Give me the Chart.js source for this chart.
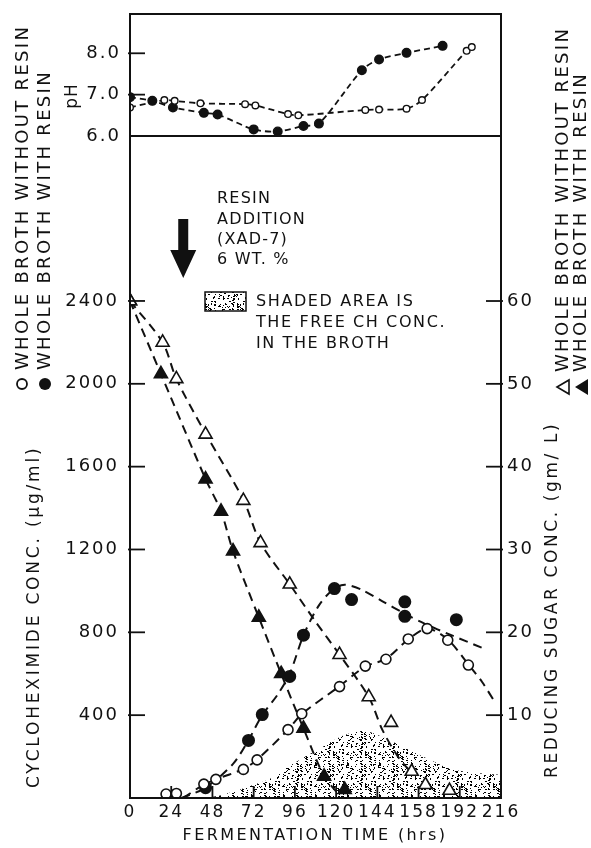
<!DOCTYPE html>
<html><head><meta charset="utf-8">
<script src="https://cdn.jsdelivr.net/npm/chart.js@4.4.1/dist/chart.umd.min.js"></script>
<style>html,body{margin:0;padding:0;background:#fff;}canvas{display:block}</style>
</head><body>
<canvas id="c" width="591" height="848"></canvas>
<script>
// ---------------- data ----------------
const xTickValues = [0, 24, 48, 72, 96, 120, 144, 168, 192, 216];
const xTickLabels = ['0', '24', '48', '72', '96', '120', '144', '158', '192', '216'];
const chTicks = [400, 800, 1200, 1600, 2000, 2400];
const sugarTicks = [10, 20, 30, 40, 50, 60];
const phTicks = [6, 7, 8];

// pH panel
const phResinT   = [0, 13, 25, 43, 51, 72, 86, 101, 110, 135, 145, 161, 182];
const phResin    = [6.94, 6.85, 6.69, 6.56, 6.52, 6.16, 6.11, 6.24, 6.30, 7.59, 7.85, 8.01, 8.18];
const phNoResinT = [0, 20, 26, 41, 67, 73, 92, 98, 137, 145, 161, 170, 196, 199];
const phNoResin  = [6.69, 6.87, 6.85, 6.79, 6.77, 6.74, 6.53, 6.50, 6.63, 6.64, 6.66, 6.87, 8.06, 8.15];

// cycloheximide (ug/ml)
const chResinT   = [44, 69, 77, 93, 101, 119, 129, 160, 160, 190];
const chResin    = [50, 278, 403, 587, 786, 1011, 958, 947, 877, 861];
const chNoResinT = [21, 27, 43, 50, 66, 74, 92, 100, 122, 137, 149, 162, 173, 185, 197];
const chNoResin  = [19, 22, 67, 90, 138, 184, 330, 407, 538, 637, 670, 768, 818, 762, 642];

// reducing sugar (g/L)
const sugarNoResinT = [0, 19, 27, 44, 66, 76, 93, 122, 139, 152, 164, 172, 186];
const sugarNoResin  = [60, 55, 50.6, 43.9, 35.9, 30.8, 25.8, 17.3, 12.2, 9.1, 3.2, 1.6, 0.9];
const sugarResinT   = [0, 18, 44, 53, 60, 75, 88, 101, 113, 125];
const sugarResin    = [60, 51.2, 38.5, 34.6, 29.8, 21.8, 15, 8.4, 2.6, 1.0];

// dashed fitted curves as drawn in the figure
const fitCHResinT   = [30, 44, 60, 69, 77, 86, 93, 101, 110, 118, 125, 135, 147, 160, 172, 186, 205];
const fitCHResin    = [0, 50, 165, 280, 400, 500, 600, 785, 930, 1005, 1030, 1005, 950, 890, 840, 790, 725];
const fitCHNoResinT = [31, 42, 50, 66, 74, 92, 100, 122, 137, 149, 162, 173, 185, 197, 205, 213];
const fitCHNoResin  = [0, 60, 90, 140, 185, 330, 405, 540, 635, 672, 765, 818, 765, 645, 560, 455];
const fitSugarNoResinT = [0, 19, 27, 44, 66, 76, 93, 108, 122, 139, 147, 156, 164];
const fitSugarNoResin  = [60, 55, 50.6, 44, 36, 30.8, 25.8, 21.3, 17.3, 12.2, 8.2, 5.0, 3.0];
const fitSugarResinT   = [0, 18, 44, 53, 60, 75, 88, 101, 113, 120];
const fitSugarResin    = [60, 51.2, 38.5, 34.6, 29.8, 21.8, 15, 8.4, 2.6, 0.8];

// free CH in the broth (shaded area, ug/ml)
const freeT  = [40, 50, 60, 70, 81, 90, 100, 110, 120, 128, 137, 147, 157, 167, 177, 186, 196, 205, 216];
const freeCH = [0, 8, 30, 58, 90, 140, 190, 236, 285, 313, 323, 294, 255, 214, 175, 142, 126, 118, 112];

const resinAdditionTime = 31;

// ---------------- drawing ----------------
const FONT = "'DejaVu Sans', 'Liberation Sans', sans-serif";
const INK = '#111';
const canvas = document.getElementById('c');
const ctx = canvas.getContext('2d');

// stipple texture: scattered dots placed with an integer hash (fixed layout)
function makeStipple() {
  const S = 32;
  const p = document.createElement('canvas');
  p.width = S; p.height = S;
  const g = p.getContext('2d');
  g.fillStyle = '#000';
  for (let i = 1; i <= 170; i++) {
    const h = Math.imul(i, 2654435761) >>> 0;
    const h2 = Math.imul(h ^ (h >>> 15), 2246822519) >>> 0;
    const x = h2 % S, y = (h2 >>> 11) % S;
    const w = (h2 >>> 20) % 3 === 0 ? 2 : 1;
    g.fillRect(x, y, w, 1);
  }
  return ctx.createPattern(p, 'repeat');
}
const stipple = makeStipple();

const pts = (t, v) => t.map((x, i) => ({ x: x, y: v[i] }));

function markers(t, v, axis, style, filled, r) {
  return {
    data: pts(t, v), yAxisID: axis, showLine: false, order: 0,
    pointStyle: style, pointRadius: r, pointHoverRadius: r,
    pointBackgroundColor: filled ? INK : '#fff', pointBorderColor: INK, pointBorderWidth: 1.6
  };
}
function curve(t, v, axis, dash, w) {
  return {
    data: pts(t, v), yAxisID: axis, showLine: true, order: 5,
    borderColor: INK, borderWidth: w, borderDash: dash, pointRadius: 0,
    tension: 0.3, fill: false
  };
}
function phSeries(t, v, filled, r) {
  return {
    data: pts(t, v), yAxisID: 'yPH', showLine: true, order: 1,
    borderColor: INK, borderWidth: 1.8, borderDash: [6, 4],
    tension: 0.3,
    pointStyle: 'circle', pointRadius: r, pointBackgroundColor: filled ? INK : '#fff',
    pointBorderColor: INK, pointBorderWidth: 1.4
  };
}

function vText(g, str, x, yStart, size, spacing, align) {
  g.save();
  g.font = size + 'px ' + FONT;
  g.letterSpacing = spacing + 'px';
  g.fillStyle = INK;
  g.textAlign = align || 'left';
  g.textBaseline = 'middle';
  g.translate(x, yStart);
  g.rotate(-Math.PI / 2);
  g.fillText(str, 0, 0);
  g.restore();
}
function hText(g, str, x, y, size, spacing, align) {
  g.save();
  g.font = size + 'px ' + FONT;
  g.letterSpacing = spacing + 'px';
  g.fillStyle = INK;
  g.textAlign = align || 'left';
  g.textBaseline = 'middle';
  g.fillText(str, x, y);
  g.restore();
}
function seg(g, x1, y1, x2, y2) { g.beginPath(); g.moveTo(x1, y1); g.lineTo(x2, y2); g.stroke(); }

const deco = {
  id: 'deco',
  beforeDraw(chart) { chart.ctx.letterSpacing = '2px'; },
  afterDraw(chart) {
    const g = chart.ctx, a = chart.chartArea, s = chart.scales;
    g.save();
    g.letterSpacing = '0px';
    g.strokeStyle = INK; g.lineWidth = 2;
    g.strokeRect(a.left, a.top, a.right - a.left, a.bottom - a.top);
    const y6 = s.yPH.getPixelForValue(6);
    seg(g, a.left, y6, a.right, y6);
    g.lineWidth = 1.8;
    [7, 8].forEach(v => { const y = s.yPH.getPixelForValue(v); seg(g, a.left - 2, y, a.left + 15, y); });
    chTicks.forEach(v => { const y = s.yCH.getPixelForValue(v); seg(g, a.left - 2, y, a.left + 15, y); });
    sugarTicks.forEach(v => { const y = s.ySugar.getPixelForValue(v); seg(g, a.right - 15, y, a.right + 2, y); });
    xTickValues.slice(1, -1).forEach(v => { const x = s.x.getPixelForValue(v); seg(g, x, a.bottom, x, a.bottom - 12); });

    // left legends
    vText(g, 'WHOLE BROTH WITHOUT RESIN', 23, 370, 18, 2.3);
    vText(g, 'WHOLE BROTH WITH RESIN', 45, 370, 18, 2.3);
    g.lineWidth = 1.8;
    g.beginPath(); g.arc(22, 384, 5, 0, Math.PI * 2); g.fillStyle = '#fff'; g.fill(); g.stroke();
    g.beginPath(); g.arc(45, 384, 6, 0, Math.PI * 2); g.fillStyle = INK; g.fill();
    vText(g, 'pH', 73, 96, 17, 1, 'center');
    vText(g, 'CYCLOHEXIMIDE CONC. (\u03BCg/ml)', 35, 788, 17, 2.8);

    // right legends
    vText(g, 'REDUCING SUGAR CONC. (gm/ L)', 553, 778, 17, 2.6);
    vText(g, 'WHOLE BROTH WITHOUT RESIN', 563, 372, 18, 2.3);
    vText(g, 'WHOLE BROTH WITH RESIN', 581, 372, 18, 2.3);
    g.beginPath(); g.moveTo(557, 387); g.lineTo(569, 380); g.lineTo(569, 394); g.closePath();
    g.fillStyle = '#fff'; g.fill(); g.lineWidth = 1.6; g.stroke();
    g.beginPath(); g.moveTo(575, 387); g.lineTo(588, 379); g.lineTo(588, 395); g.closePath();
    g.fillStyle = INK; g.fill();

    // x title
    hText(g, 'FERMENTATION TIME (hrs)', 315, 836, 16, 2.4, 'center');

    // resin addition annotation
    const ax = s.x.getPixelForValue(resinAdditionTime);
    g.fillStyle = INK;
    g.beginPath();
    g.moveTo(ax - 5, 219); g.lineTo(ax + 5, 219); g.lineTo(ax + 5, 250); g.lineTo(ax + 13, 250);
    g.lineTo(ax, 278); g.lineTo(ax - 13, 250); g.lineTo(ax - 5, 250); g.closePath(); g.fill();
    hText(g, 'RESIN', 217, 199, 16, 1.2);
    hText(g, 'ADDITION', 217, 220, 16, 1.2);
    hText(g, '(XAD-7)', 217, 240, 16, 1.2);
    hText(g, '6 WT. %', 217, 260, 16, 1.2);

    // shaded-area key
    g.fillStyle = '#fff'; g.fillRect(205, 292, 41, 19);
    g.fillStyle = stipple; g.fillRect(205, 292, 41, 19);
    g.lineWidth = 1.5; g.strokeStyle = INK; g.strokeRect(205, 292, 41, 19);
    hText(g, 'SHADED AREA IS', 256, 302, 16, 1.6);
    hText(g, 'THE FREE CH CONC.', 256, 323, 16, 1.6);
    hText(g, 'IN THE BROTH', 256, 344, 16, 1.6);
    g.restore();
  }
};

const tickFont = { family: FONT, size: 18 };
const noPad = sc => { sc.paddingTop = 0; sc.paddingBottom = 0; sc.paddingLeft = 0; sc.paddingRight = 0; };

new Chart(ctx, {
  type: 'line',
  data: {
    datasets: [
      markers(chNoResinT, chNoResin, 'yCH', 'circle', false, 5),
      markers(chResinT, chResin, 'yCH', 'circle', true, 5.7),
      markers(sugarNoResinT, sugarNoResin, 'ySugar', 'triangle', false, 7.5),
      markers(sugarResinT, sugarResin, 'ySugar', 'triangle', true, 7.5),
      phSeries(phNoResinT, phNoResin, false, 3.3),
      phSeries(phResinT, phResin, true, 4.3),
      curve(fitCHNoResinT, fitCHNoResin, 'yCH', [9, 6], 2),
      curve(fitCHResinT, fitCHResin, 'yCH', [9, 6], 2),
      curve(fitSugarNoResinT, fitSugarNoResin, 'ySugar', [9, 6], 2),
      curve(fitSugarResinT, fitSugarResin, 'ySugar', [9, 6], 2),
      {
        data: pts(freeT, freeCH), yAxisID: 'yCH', order: 10, showLine: true,
        borderWidth: 0, borderColor: 'rgba(0,0,0,0)', pointRadius: 0,
        backgroundColor: stipple, fill: 'origin', tension: 0.35
      }
    ]
  },
  options: {
    responsive: false, animation: false, devicePixelRatio: 1,
    layout: { padding: { top: 14, left: 0, right: 0, bottom: 0 } },
    plugins: { legend: { display: false }, tooltip: { enabled: false } },
    scales: {
      x: {
        type: 'linear', position: 'bottom', min: 0, max: 216,
        afterBuildTicks: sc => { sc.ticks = xTickValues.map(v => ({ value: v })); },
        ticks: { autoSkip: false, maxRotation: 0, padding: 4, color: INK, font: { family: FONT, size: 17 },
                 callback: v => xTickLabels[xTickValues.indexOf(v)] },
        grid: { display: false, drawTicks: false }, border: { display: false },
        afterFit: sc => { sc.height = 50; noPad(sc); }
      },
      yCH: {
        type: 'linear', position: 'left', stack: 'left', stackWeight: 662, min: 0, max: 3196.5,
        afterBuildTicks: sc => { sc.ticks = chTicks.map(v => ({ value: v })); },
        ticks: { padding: 11, color: INK, font: tickFont, callback: v => String(v) },
        grid: { display: false, drawTicks: false }, border: { display: false },
        afterFit: sc => { sc.width = 130; noPad(sc); }
      },
      yPH: {
        type: 'linear', position: 'left', stack: 'left', stackWeight: 122, min: 6, max: 8.95,
        afterBuildTicks: sc => { sc.ticks = phTicks.map(v => ({ value: v })); },
        ticks: { padding: 9, color: INK, font: tickFont, callback: v => v.toFixed(1) },
        grid: { display: false, drawTicks: false }, border: { display: false },
        afterFit: sc => { sc.width = 130; noPad(sc); }
      },
      ySugar: {
        type: 'linear', position: 'right', min: 0, max: 94.65,
        afterBuildTicks: sc => { sc.ticks = sugarTicks.map(v => ({ value: v })); },
        ticks: { padding: 6, color: INK, font: tickFont, callback: v => String(v) },
        grid: { display: false, drawTicks: false }, border: { display: false },
        afterFit: sc => { sc.width = 90; noPad(sc); }
      }
    }
  },
  plugins: [deco]
});
</script>
</body></html>
